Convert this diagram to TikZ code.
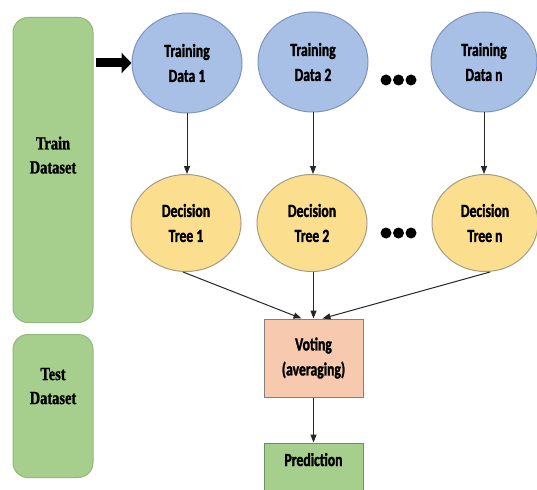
\documentclass[tikz,border=0pt]{standalone}
\usepackage{fontspec}
\usetikzlibrary{shapes.geometric,arrows.meta,calc}
\newfontfamily\condsans[FakeStretch=0.74,FakeBold=1.5]{Carlito}
\newfontfamily\condserif[FakeStretch=0.78,FakeBold=1.2]{Liberation Serif}
\definecolor{boxgreen}{HTML}{A6CF8D}
\definecolor{boxgreenline}{HTML}{8FB97A}
\definecolor{ellblue}{HTML}{A8C0E6}
\definecolor{ellblueline}{HTML}{7E93BA}
\definecolor{ellyellow}{HTML}{FCDE8F}
\definecolor{ellyellowline}{HTML}{A39D84}
\definecolor{votefill}{HTML}{F7C9AE}
\definecolor{voteline}{HTML}{808080}
\definecolor{predline}{HTML}{6E8F5F}
\tikzset{
  sidebox/.style={draw=boxgreenline, line width=1pt, fill=boxgreen, rounded corners=15pt,
    minimum width=80pt, align=center, font=\condserif\bfseries\fontsize{18.5}{24}\selectfont},
  databox/.style={ellipse, draw=ellblueline, line width=1pt, fill=ellblue, minimum width=110pt,
    minimum height=100pt, inner sep=0pt, align=center, font=\condsans\bfseries\fontsize{18.5}{25}\selectfont},
  treebox/.style={ellipse, draw=ellyellowline, line width=1pt, fill=ellyellow, minimum width=110pt,
    minimum height=97pt, inner sep=0pt, align=center, font=\condsans\bfseries\fontsize{18.5}{25}\selectfont},
  rectbox/.style={draw, line width=1pt, minimum width=99pt, inner sep=0pt, align=center,
    font=\condsans\bfseries\fontsize{18.5}{25}\selectfont},
  conn/.style={draw=black!85, line width=1pt, -{Triangle[length=8pt,width=6pt]}},
  dot/.style={fill=black, draw=none}
}
\begin{document}
\begin{tikzpicture}[x=1pt,y=-1pt]
\clip (0,0) rectangle (537,489);
\fill[white] (0,0) rectangle (537,489);
% side boxes
\node[sidebox, minimum height=305pt] (train) at (53,170) {Train\\Dataset\\[6pt]};
\node[sidebox, minimum height=143pt] (test) at (53,406) {Test\\Dataset\\[16pt]};
% training data
\node[databox] (tr1) at (187,63) {Training\\Data 1};
\node[databox] (tr2) at (313,62) {Training\\Data 2};
\node[databox, minimum width=106pt] (trn) at (484,62) {Training\\Data n};
% decision trees
\node[treebox] (dt1) at (186,223) {Decision\\Tree 1};
\node[treebox] (dt2) at (312,223) {Decision\\Tree 2};
\node[treebox, minimum width=106pt] (dtn) at (485,223) {Decision\\Tree n};
% voting and prediction
\node[rectbox, draw=voteline, fill=votefill, minimum height=78pt] (vote) at (313.5,358) {Voting\\(averaging)};
\node[rectbox, draw=predline, fill=boxgreen, minimum height=58pt] (pred) at (313.5,472) {Prediction\\[0pt]};
% dots
\foreach \x in {386,398.5,411}{
  \fill[dot] (\x,80) circle (5.5);
  \fill[dot] (\x,233) circle (5.5);
}
% thick arrow
\coordinate (tstart) at (train.east |- tr1);
\draw[line width=9pt, -{Triangle[length=10pt,width=20pt]}] ($(tstart)+(2,0)$) -- (tr1.west);
% vertical arrows
\draw[conn] (tr1.south) -- (tr1.south |- dt1.north);
\draw[conn] (tr2.south) -- (tr2.south |- dt2.north);
\draw[conn] (trn.south) -- (trn.south |- dtn.north);
% into voting
\coordinate (vin1) at ($(vote.north)+(-12,0)$);
\coordinate (vin3) at ($(vote.north)+(9,0)$);
\draw[conn] ($(dt1.south)+(-3,0)$) -- (vin1);
\draw[conn] (dt2.south -| vote.north) -- (vote.north);
\draw[conn] ($(dtn.south)+(5,0)$) -- (vin3);
\draw[conn] (vote.south) -- (pred.north);
\end{tikzpicture}
\end{document}
